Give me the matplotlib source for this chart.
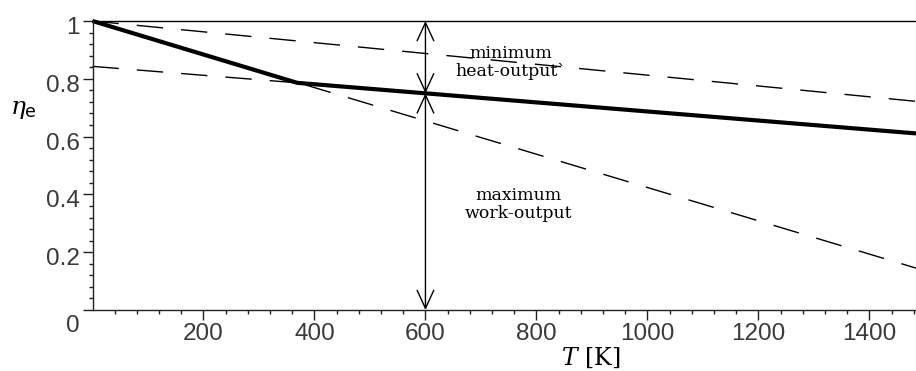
import numpy as np
import matplotlib
matplotlib.use("Agg")
import matplotlib.pyplot as plt
from matplotlib.patches import ArrowStyle
from matplotlib.transforms import ScaledTranslation

plt.rcParams['lines.scale_dashes'] = False
plt.rcParams['mathtext.fontset'] = 'dejavuserif'

# ---- data ----
T_line = [0, 1484]
eta_top = [1.0, 1.0]                 # upper solid reference line
eta_upper_dash = [1.0, 0.722]        # upper dashed line
eta_steep_dash = [1.0, 0.145]        # steep dashed line
T_flat_visible = [0, 369]
eta_flat_visible = [0.843, 0.786]    # flatter dashed line (visible only at low T)
T_thick = [0, 369, 1484]
eta_thick = [1.0, 0.786, 0.611]      # eta_e = max of the two dashed lines
T_arrow = 600

xticks = [200, 400, 600, 800, 1000, 1200, 1400]
yticks = [0, 0.2, 0.4, 0.6, 0.8, 1.0]
ytick_labels = ["0", "0.2", "0.4", "0.6", "0.8", "1"]

W, H = 916, 371
fig = plt.figure(figsize=(W / 100, H / 100), dpi=100)
x0, x1 = 92.5, 916
y_top, y_bot = 21, 310
ax = fig.add_axes([x0 / W, (H - y_bot) / H, (x1 - x0) / W, (y_bot - y_top) / H])
ax.set_xlim(0, 1484)
ax.set_ylim(0, 1)

dash = (0, (19, 13))
ax.plot(T_line, eta_top, color='black', lw=1.0, clip_on=False)
ax.plot(T_line, eta_upper_dash, color='black', lw=1.0, linestyle=dash, clip_on=False)
ax.plot(T_line, eta_steep_dash, color='black', lw=1.0, linestyle=dash, clip_on=False)
ax.plot(T_flat_visible, eta_flat_visible, color='black', lw=1.0, linestyle=dash, clip_on=False)
ax.plot(T_thick, eta_thick, color='black', lw=3.0, solid_capstyle='butt', clip_on=False)

eta_at_arrow = float(np.interp(T_arrow, T_thick, eta_thick))
style = ArrowStyle('<->', head_length=0.65, head_width=0.3)
for ya, yb in [(1.0, eta_at_arrow), (eta_at_arrow, 0.0)]:
    ax.annotate('', xy=(T_arrow, ya), xytext=(T_arrow, yb),
                arrowprops=dict(arrowstyle=style, mutation_scale=20, lw=1.0,
                                color='black', shrinkA=0, shrinkB=0),
                annotation_clip=False)

serif = 'DejaVu Serif'
fs_txt = 12.5
def px_text(xp, yp, s, **kw):
    fig.text(xp / W, (H - yp) / H, s, **kw)

px_text(511, 53, 'minimum', ha='center', va='center', family=serif, fontsize=fs_txt)
px_text(511, 72, 'heat-output`', ha='center', va='center', family=serif, fontsize=fs_txt)
px_text(518, 195, 'maximum', ha='center', va='center', family=serif, fontsize=fs_txt)
px_text(518, 214, 'work-output', ha='center', va='center', family=serif, fontsize=fs_txt)

# axis labels
px_text(23, 109, r'$\eta_{\mathsf{e}}$', ha='center', va='center', fontsize=18)
px_text(591, 358, r'$T$ [K]', ha='center', va='center', family=serif, fontsize=17)

# axes styling
for s in ['top', 'right']:
    ax.spines[s].set_visible(False)
for s in ['left', 'bottom']:
    ax.spines[s].set_linewidth(1.0)
    ax.spines[s].set_color('#222222')

ax.set_xticks(xticks)
ax.set_xticklabels([str(t) for t in xticks])
ax.set_xticks(np.arange(40, 1484, 40), minor=True)
ax.set_yticks(yticks)
ax.set_yticklabels(ytick_labels)
ax.set_yticks(np.arange(0.04, 1.0, 0.04), minor=True)

ax.tick_params(axis='both', which='major', direction='out', length=7, width=1.0,
               labelsize=17.5, color='#222222', labelcolor='#3a3a3a')
ax.tick_params(axis='both', which='minor', direction='out', length=3, width=1.0, color='#222222')
ax.tick_params(axis='x', which='major', pad=2.5)
ax.tick_params(axis='y', which='major', pad=2)
for lab in ax.get_xticklabels() + ax.get_yticklabels():
    lab.set_family('Liberation Sans')

off = ScaledTranslation(0, -4.5 / 100, fig.dpi_scale_trans)
for lab in ax.get_yticklabels():
    lab.set_transform(lab.get_transform() + off)
off0 = ScaledTranslation(0, -9 / 100, fig.dpi_scale_trans)
ax.get_yticklabels()[0].set_transform(ax.get_yticklabels()[0].get_transform() + off0)

fig.savefig('out.png', dpi=100)
